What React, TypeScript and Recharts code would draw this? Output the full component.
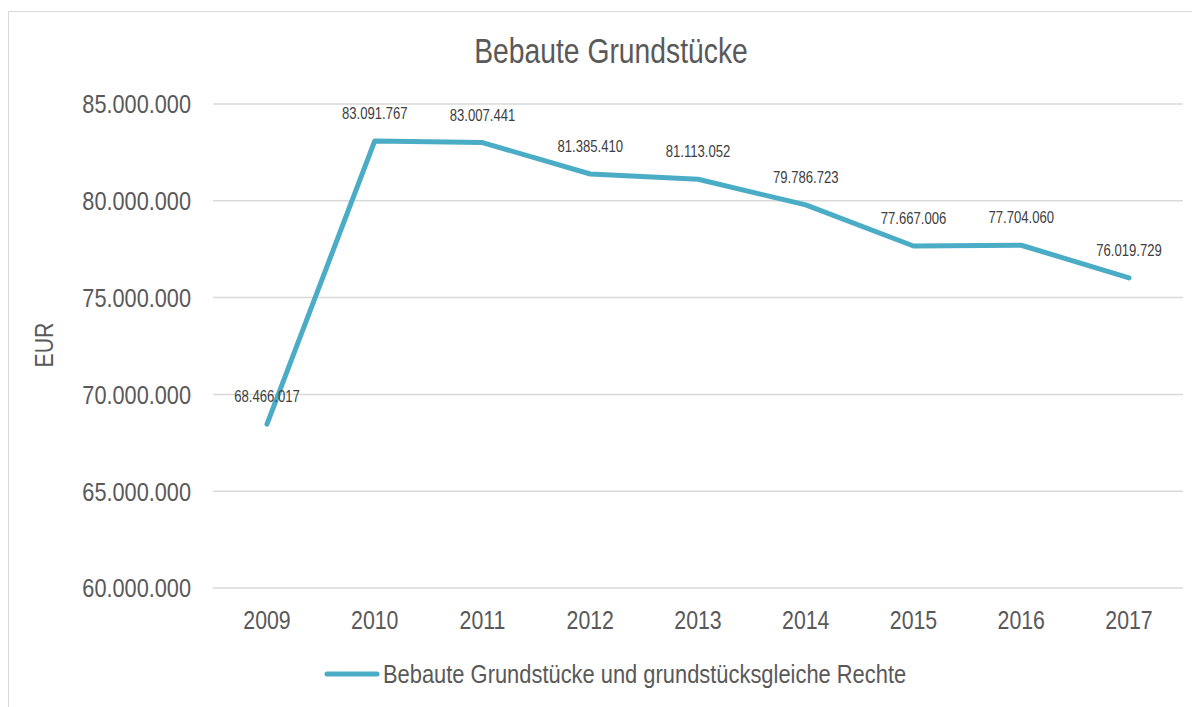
import React from 'react';
import { LineChart, Line, XAxis, YAxis, CartesianGrid, LabelList } from 'recharts';

const years = ['2009', '2010', '2011', '2012', '2013', '2014', '2015', '2016', '2017'];
const values = [68466017, 83091767, 83007441, 81385410, 81113052, 79786723, 77667006, 77704060, 76019729];
const yTicks = [60000000, 65000000, 70000000, 75000000, 80000000, 85000000];
const seriesName = 'Bebaute Grundstücke und grundstücksgleiche Rechte';
const title = 'Bebaute Grundstücke';
const yLabel = 'EUR';

const data = years.map((y, i) => ({ year: y, value: values[i] }));

const FONT = "'Liberation Sans', Arial, sans-serif";
const LINE = '#4BACC6';
const TEXT = '#595959';
const NARROW = 0.82;

const fmt = (v: number) => v.toLocaleString('de-DE');

const renderLabel = (props: any) => {
  const { x, y, value } = props;
  return (
    <g transform={`translate(${x},${y - 22})`}>
      <text transform={`scale(${NARROW},1)`} textAnchor="middle" fontSize={16} fill="#404040" fontFamily={FONT}>
        {fmt(value)}
      </text>
    </g>
  );
};

const XTick = (props: any) => {
  const { x, y, payload } = props;
  return (
    <g transform={`translate(${x},${y + 32})`}>
      <text transform={`scale(${NARROW},1)`} textAnchor="middle" dy="0.355em" fontSize={26} fill={TEXT} fontFamily={FONT}>
        {payload.value}
      </text>
    </g>
  );
};

const YTick = (props: any) => {
  const { x, y, payload } = props;
  return (
    <g transform={`translate(${x},${y})`}>
      <text transform={`scale(${NARROW},1)`} textAnchor="end" dy="0.355em" fontSize={26.5} fill={TEXT} fontFamily={FONT}>
        {fmt(payload.value)}
      </text>
    </g>
  );
};

export default function App() {
  return (
    <div style={{ position: 'relative', width: 1200, height: 700, marginTop: 3, border: '1px solid #d9d9d9', background: '#fff' }}>
      <LineChart width={1200} height={700} data={data} margin={{ top: 92, right: 26, left: 84, bottom: 94 }}>
        <CartesianGrid vertical={false} stroke="#d9d9d9" strokeWidth={1.5} />
        <XAxis dataKey="year" axisLine={false} tickLine={false} tickSize={0} tickMargin={0} padding={{ left: 54, right: 54 }} tick={<XTick />} interval={0} />
        <YAxis width={120} domain={[60000000, 85000000]} ticks={yTicks} axisLine={false} tickLine={false} tickSize={0} tickMargin={22} tick={<YTick />} />
        <Line type="linear" dataKey="value" stroke={LINE} strokeWidth={5} strokeLinecap="round" strokeLinejoin="round" dot={false} isAnimationActive={false}>
          <LabelList dataKey="value" content={renderLabel} />
        </Line>
      </LineChart>
      <svg width={1200} height={700} style={{ position: 'absolute', left: 0, top: 0, pointerEvents: 'none' }}>
        <g transform="translate(602,39)">
          <text transform={`scale(${NARROW},1)`} textAnchor="middle" dy="0.355em" fontSize={34.5} fill={TEXT} fontFamily={FONT}>{title}</text>
        </g>
        <g transform="translate(35,333) rotate(-90)">
          <text transform={`scale(${NARROW},1)`} textAnchor="middle" dy="0.355em" fontSize={26} fill={TEXT} fontFamily={FONT}>{yLabel}</text>
        </g>
        <line x1={318} y1={662} x2={368} y2={662} stroke={LINE} strokeWidth={5} strokeLinecap="round" />
        <g transform="translate(374,662)">
          <text transform={`scale(${NARROW},1)`} textAnchor="start" dy="0.355em" fontSize={26.7} fill={TEXT} fontFamily={FONT}>{seriesName}</text>
        </g>
      </svg>
    </div>
  );
}
